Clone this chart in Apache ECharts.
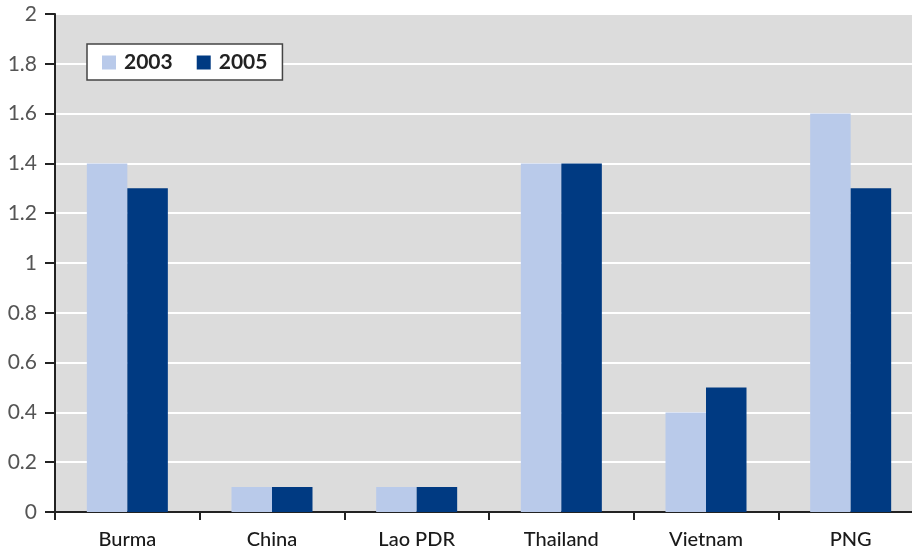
<!DOCTYPE html>
<html>
<head>
<meta charset="utf-8">
<script src="https://cdn.jsdelivr.net/npm/echarts@6/dist/echarts.min.js"></script>
<style>
    html, body { margin: 0; padding: 0; background: #fff; }
    #chart { width: 912px; height: 548px; }
</style>
</head>
<body>
<div id="chart"></div>
<script>
    var categories = ['Burma', 'China', 'Lao PDR', 'Thailand', 'Vietnam', 'PNG'];
    var values2003 = [1.4, 0.1, 0.1, 1.4, 0.4, 1.6];
    var values2005 = [1.3, 0.1, 0.1, 1.4, 0.5, 1.3];
    var seriesNames = ['2003', '2005'];

    var chart = echarts.init(document.getElementById('chart'));
    chart.setOption({
        animation: false,
        textStyle: {
            fontFamily: 'Lato'
        },
        legend: {
            data: seriesNames,
            left: 87,
            top: 44,
            orient: 'horizontal',
            backgroundColor: '#fff',
            borderColor: '#444',
            borderWidth: 1.5,
            borderRadius: 0,
            padding: [8, 15, 7, 15],
            itemWidth: 14,
            itemHeight: 14,
            itemGap: 24,
            icon: 'rect',
            textStyle: {
                fontSize: 21,
                fontWeight: 'bold',
                color: '#222',
                padding: [0, 0, 0, 3]
            }
        },
        grid: {
            left: 55,
            width: 868,
            top: 14,
            bottom: 36,
            outerBoundsMode: 'none',
            containLabel: false,
            show: true,
            backgroundColor: '#dcdcdc',
            borderWidth: 0
        },
        xAxis: {
            type: 'category',
            data: categories,
            axisLine: {
                lineStyle: {
                    color: '#222',
                    width: 2
                }
            },
            axisTick: {
                show: true,
                alignWithLabel: false,
                length: 8,
                lineStyle: {
                    color: '#222',
                    width: 2
                }
            },
            axisLabel: {
                color: '#1a1a1a',
                fontSize: 20,
                fontWeight: 500,
                margin: 18
            }
        },
        yAxis: {
            type: 'value',
            min: 0,
            max: 2,
            interval: 0.2,
            axisLine: {
                show: true,
                lineStyle: {
                    color: '#222',
                    width: 2
                }
            },
            axisTick: {
                show: true,
                length: 10,
                lineStyle: {
                    color: '#222',
                    width: 2
                }
            },
            axisLabel: {
                color: '#555',
                fontSize: 21,
                margin: 18
            },
            splitLine: {
                show: true,
                lineStyle: {
                    color: '#fff',
                    width: 2
                }
            }
        },
        series: [{
            name: seriesNames[0],
            type: 'bar',
            data: values2003,
            barGap: '0%',
            barCategoryGap: '44%',
            itemStyle: {
                color: '#b9caea'
            }
        }, {
            name: seriesNames[1],
            type: 'bar',
            data: values2005,
            itemStyle: {
                color: '#003a82'
            }
        }]
    });
</script>
</body>
</html>
